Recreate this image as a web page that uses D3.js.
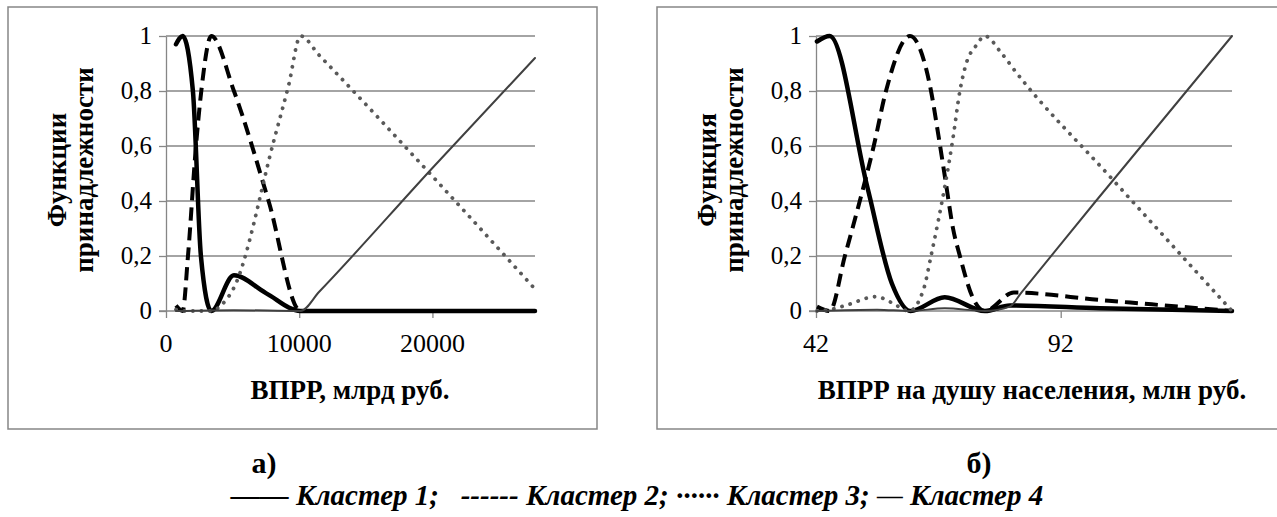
<!DOCTYPE html>
<html>
<head>
<meta charset="utf-8">
<script src="https://cdn.jsdelivr.net/npm/d3@7"></script>
<style>
  body { margin: 0; background: #fff; }
</style>
</head>
<body>
<div id="chart"></div>
<script>
// Données
const yTicks = [0, 0.2, 0.4, 0.6, 0.8, 1];
const clusterNames = ["Кластер 1", "Кластер 2", "Кластер 3", "Кластер 4"];

// a) ВПРР, млрд руб.  [x, appartenance]
const grpCluster1 = [[750, 0.97], [1250, 1.0], [2020, 0.8], [2620, 0.2], [3400, 0.0], [5100, 0.13], [7500, 0.065], [10100, 0.0], [27700, 0.0]];
const grpCluster2 = [[750, 0.02], [1250, 0.0], [1650, 0.2], [2250, 0.6], [2650, 0.8], [3400, 1.0], [5100, 0.8], [7700, 0.4], [10100, 0.0], [27700, 0.0]];
const grpCluster3 = [[750, 0.005], [1250, 0.0], [3400, 0.0], [4120, 0.02], [5100, 0.085], [8100, 0.62], [9200, 0.82], [10100, 1.0], [11500, 0.93], [20000, 0.49], [27700, 0.08]];
const grpCluster4 = [[750, 0.0], [5100, 0.003], [10100, 0.0], [11500, 0.07], [20000, 0.52], [27700, 0.92]];
const grpTicks = [0, 10000, 20000];

// б) ВПРР на душу населения, млн руб.
const capCluster1 = [[42.2, 0.98], [44.8, 1.0], [52.5, 0.45], [57.5, 0.1], [61.3, 0.0], [68.3, 0.05], [76.5, 0.0], [81.6, 0.02], [100, 0.01], [127, 0.0]];
const capCluster2 = [[42.2, 0.016], [44.8, 0.0], [47.9, 0.2], [50.8, 0.39], [53.8, 0.6], [56.3, 0.8], [61.2, 1.0], [65.5, 0.8], [67, 0.64], [68.5, 0.47], [70, 0.3], [71.4, 0.2], [74, 0.05], [76.5, 0.0], [82.4, 0.067], [100, 0.04], [127, 0.0]];
const capCluster3 = [[42.2, 0.0], [44.8, 0.005], [48, 0.02], [54.3, 0.052], [57.5, 0.03], [61, 0.0], [64, 0.08], [65.5, 0.2], [67, 0.33], [68.5, 0.47], [70, 0.63], [71.4, 0.8], [72.7, 0.9], [74.8, 0.967], [76.5, 1.0], [79.8, 0.94], [82.8, 0.87], [102, 0.49], [127, 0.0]];
const capCluster4 = [[42.2, 0.0], [54.5, 0.005], [61.3, 0.0], [68.3, 0.01], [76.5, 0.0], [81.6, 0.016], [84, 0.068], [99.2, 0.4], [127, 1.0]];
const capTicks = [42, 92];

const width = 1277, height = 517;
const gridColor = "#868686";
const fontFamily = '"Liberation Serif"';
const fmtY = d => String(d).replace(".", ",");

const lineStyles = [
  { stroke: "#000", width: 4.5, dash: null, cap: "round" },
  { stroke: "#000", width: 4, dash: "13,7", cap: "butt" },
  { stroke: "#595959", width: 3.8, dash: "0.1,8.4", cap: "round" },
  { stroke: "#404040", width: 2, dash: null, cap: "round" }
];

const panels = [
  {
    box: { x: 8, y: 7, w: 589, h: 422 },
    plot: { left: 166, right: 535, top: 36, bottom: 311 },
    domain: [0, 27700], ticks: grpTicks,
    series: [grpCluster1, grpCluster2, grpCluster3, grpCluster4],
    yTitle: ["Функции", "принадлежности"],
    xTitle: "ВПРР, млрд руб.", xTitleX: 350,
    label: "а)", labelX: 264
  },
  {
    box: { x: 657, y: 7, w: 640, h: 422 },
    plot: { left: 816, right: 1232, top: 36, bottom: 311 },
    domain: [42, 127], ticks: capTicks,
    series: [capCluster1, capCluster2, capCluster3, capCluster4],
    yTitle: ["Функция", "принадлежности"],
    xTitle: "ВПРР на душу населения, млн руб.", xTitleX: 1032,
    label: "б)", labelX: 979
  }
];

const svg = d3.select("#chart")
  .append("svg")
    .attr("width", width)
    .attr("height", height);

// texte sans text-anchor : on aligne à la main avec la longueur mesurée
function addText(x, y, str, size, align = "middle", opts = {}) {
  const t = svg.append("text")
    .attr("font-family", fontFamily)
    .attr("font-size", size)
    .text(str);
  if (opts.weight) t.attr("font-weight", opts.weight);
  if (opts.style) t.attr("font-style", opts.style);
  const len = t.node().getComputedTextLength();
  const shift = align === "end" ? len : align === "middle" ? len / 2 : 0;
  if (opts.vertical) {
    t.attr("transform", `translate(${x},${y + shift}) rotate(-90)`);
  } else {
    t.attr("x", x - shift).attr("y", y);
  }
  return t;
}

panels.forEach(p => {
  const xScale = d3.scaleLinear().domain(p.domain).range([p.plot.left, p.plot.right]);
  const yScale = d3.scaleLinear().domain([0, 1]).range([p.plot.bottom, p.plot.top]);

  // cadre
  svg.append("rect")
    .attr("x", p.box.x).attr("y", p.box.y)
    .attr("width", p.box.w).attr("height", p.box.h)
    .attr("fill", "none")
    .attr("stroke", gridColor)
    .attr("stroke-width", 1.5);

  // grille horizontale
  svg.append("g")
    .selectAll("line")
    .data(yTicks.filter(d => d > 0))
    .join("line")
      .attr("x1", p.plot.left).attr("x2", p.plot.right)
      .attr("y1", d => yScale(d)).attr("y2", d => yScale(d))
      .attr("stroke", gridColor)
      .attr("stroke-width", 1.3);

  // axe Y (traits)
  const yAxis = svg.append("g")
    .attr("transform", `translate(${p.plot.left},0)`)
    .call(d3.axisLeft(yScale).tickValues(yTicks).tickFormat("").tickSize(7).tickSizeOuter(0));
  yAxis.selectAll("text").remove();
  yAxis.attr("font-family", null).attr("font-size", null).attr("text-anchor", null);
  yAxis.select(".domain").attr("stroke", gridColor).attr("stroke-width", 1.3);
  yAxis.selectAll(".tick line").attr("stroke", gridColor).attr("stroke-width", 1.3);
  yTicks.forEach(d => addText(p.plot.left - 14, yScale(d) + 8, fmtY(d), 25, "end"));

  // axe X (traits)
  const xAxis = svg.append("g")
    .attr("transform", `translate(0,${p.plot.bottom})`)
    .call(d3.axisBottom(xScale).tickValues(p.ticks).tickFormat("").tickSize(7).tickSizeOuter(0));
  xAxis.selectAll("text").remove();
  xAxis.attr("font-family", null).attr("font-size", null).attr("text-anchor", null);
  xAxis.select(".domain")
    .attr("d", `M${p.plot.left - 7},0H${p.plot.right}`)
    .attr("stroke", gridColor).attr("stroke-width", 1.3);
  xAxis.selectAll(".tick line").attr("stroke", gridColor).attr("stroke-width", 1.3);
  p.ticks.forEach(d => addText(xScale(d), p.plot.bottom + 41, d3.format("d")(d), 26));

  // courbes lissées
  const line = d3.line()
    .x(d => xScale(d[0]))
    .y(d => yScale(d[1]))
    .curve(d3.curveMonotoneX);

  p.series.forEach((pts, i) => {
    const st = lineStyles[i];
    svg.append("path")
      .datum(pts)
      .attr("fill", "none")
      .attr("stroke", st.stroke)
      .attr("stroke-width", st.width)
      .attr("stroke-dasharray", st.dash)
      .attr("stroke-linecap", st.cap)
      .attr("stroke-linejoin", "round")
      .attr("d", line);
  });

  // titres
  p.yTitle.forEach((t, i) => {
    addText(p.plot.left - 100 + i * 27, 170, t, 27, "middle", { weight: "bold", vertical: true });
  });
  addText(p.xTitleX, 399, p.xTitle, 27, "middle", { weight: "bold" });
  addText(p.labelX, 473, p.label, 30, "middle", { weight: "bold" });
});

// légende
const legend = svg.append("text")
  .attr("font-family", fontFamily)
  .attr("font-size", 29)
  .attr("font-weight", "bold")
  .attr("font-style", "italic")
  .attr("y", 505)
  .style("white-space", "pre");
legend.append("tspan").text("——");
legend.append("tspan").text(` ${clusterNames[0]};   `);
legend.append("tspan").text("------");
legend.append("tspan").text(` ${clusterNames[1]}; `);
legend.append("tspan").text("······");
legend.append("tspan").text(` ${clusterNames[2]}; `);
legend.append("tspan").attr("font-weight", "normal").text("—");
legend.append("tspan").text(` ${clusterNames[3]}`);
const legendLen = legend.node().getComputedTextLength();
legend.attr("x", 637 - legendLen / 2);
</script>
</body>
</html>
